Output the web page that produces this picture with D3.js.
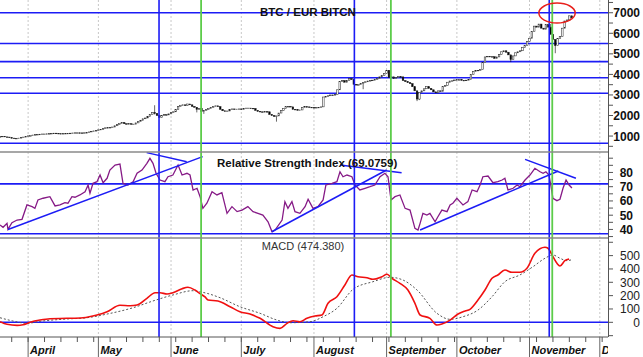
<!DOCTYPE html>
<html><head><meta charset="utf-8">
<script src="https://cdn.jsdelivr.net/npm/d3@7"></script>
<style>html,body{margin:0;padding:0;background:#fff;}svg{display:block;}</style>
</head><body>
<script>
// ---------- DATA ----------
const startDate = "2017-03-20";            // first daily candle
const firstOpen = 960;
const closes = [
 // Mar 20-31
 970,990,960,950,920,900,880,890,900,930,950,980,
 // April
 1010,1020,1050,1070,1080,1090,1100,1100,1110,1120,1130,1140,1130,1120,1120,1125,1130,1135,1140,1150,1160,1160,1155,1150,1160,1170,1200,1230,1250,1270,
 // May
 1300,1330,1370,1400,1410,1420,1440,1500,1560,1620,1660,1600,1580,1600,1570,1580,1640,1700,1770,1840,1880,1950,2050,2150,2100,2000,1900,1990,2040,2030,2080,
 // June
 2150,2180,2300,2450,2500,2520,2480,2560,2520,2440,2400,2300,2350,2200,2250,2300,2330,2400,2450,2470,2430,2300,2230,2200,2220,2280,2320,2300,2310,2320,
 // July
 2300,2340,2360,2360,2350,2340,2250,2200,2180,2170,2190,2180,2050,2000,1950,1980,2120,2250,2350,2430,2440,2420,2300,2280,2260,2270,2380,2430,2420,2400,2390,
 // August
 2380,2390,2400,2420,2900,2920,2960,3000,2990,3030,3250,3650,3700,3620,3700,3800,3750,3520,3480,3500,3550,3600,3640,3680,3700,3720,3760,3800,3880,3950,4050,
 // September
 4200,3850,3880,3800,3850,3890,3880,3700,3650,3600,3550,3400,3200,2800,3130,3200,3300,3400,3320,3250,3150,3100,3200,3180,3400,3450,3620,3680,3690,3730,
 // October
 3740,3740,3710,3700,3720,3760,4000,4150,4200,4180,4250,4570,4850,4880,4850,4860,4780,4850,4980,5100,5150,5080,4950,4720,4900,5050,5100,5150,5300,5400,5600,
 // November 1-19
 5760,6100,6350,6300,6450,6250,6200,6420,6300,5950,5700,5400,5750,5850,6250,6600,6650,6850,6750
];
// sparse wick extremes: [day index, low, high]
const wicks = [[66,2050,2500],[84,2150,null],[87,2080,null],[118,1700,null],[155,3280,null],
               [178,2700,null],[179,2750,null],[218,4600,null],[237,5030,null],[235,null,6450]];

const priceTicks = [1000,2000,3000,4000,5000,6000,7000];
const priceLevels = [7000,5500,4620,3840,3080,650];       // horizontal support/resistance lines

const rsiDays = [0,1.3,3,3.4,5.1,7.3,9.4,11.5,13.7,14.9,16.2,18.4,21.3,23.5,25.6,27.7,29,30.7,32,34.1,36.3,37.6,38.4,39.7,41.4,42.7,44,45.7,46.9,49.1,51.2,52.5,54.6,56.8,58.5,60.6,62.7,64,65.3,66.6,68.3,70.4,71.7,73.8,76,77.7,79.8,81.1,82.4,84.1,85.4,86.6,88.3,90.5,92.6,94.7,96.9,99,101.2,103.3,105.8,108,110.1,112.2,114.4,116.1,117.4,120.4,121.6,122.9,124.6,125.9,128,130.2,131.5,133.6,135.7,137.9,139.1,141.7,143.8,145.1,146.4,148.1,150.2,151.5,153.6,155.8,157.9,160,162.2,164.3,165.6,166.9,168.6,170.7,172.9,175,177.1,178.4,179.3,180.5,182.2,183.5,185.7,186.9,188.6,190.8,192.1,193.3,195,196.3,197.6,199.7,201.5,203.6,204.9,206.1,208.3,210.4,212.5,214.3,215.5,216.8,219,220.7,221.9,224.1,226.2,228.3,230.5,231.8,233,234.3,235.2,236,237.7,239,240.3,241.6,242.9,244.1];
const rsiValues = [43.1,41.5,44.3,40.1,44.7,46.6,47.1,57.2,56,54.8,60.7,61.9,63,56.5,57.2,58.8,58.4,63,62.6,64.2,66.5,71.2,65.4,72.4,73.5,78.2,72.8,75.9,81.7,85.2,85.9,72.4,71.2,73.5,79.4,81.7,86.4,89.9,86.4,79.4,74.7,73.5,77,78.2,85.2,78.2,79.4,78.2,67.7,68.9,63,54.8,58.4,66.5,64.2,65.8,51.3,56,52.5,53.6,56,52.5,51.3,50.1,45.4,38.4,39.6,46.6,59.5,54.8,59.5,52.5,51.3,56,61.2,54.8,56,60.7,71.2,72.4,73.5,80.5,77,78.2,77,71.2,67.7,68.9,70,71.2,77,79.4,77,60.7,63,64.2,54.8,53.6,40.8,39.6,44.3,51.3,50.1,51.3,45.4,48.9,53.6,52.5,57.2,58.4,61.9,59.5,57.2,59.5,67.7,66.5,71.2,77,77.5,72.8,73.5,74.7,75.9,67.7,68.9,71.2,70,74.7,78.2,82.9,80.5,79.4,80.5,78.2,70,61.9,60.2,61.2,68.9,74.7,71.2,69.1];
const rsiTicks = [40,50,60,70,80];
const rsiLevels = [72,37];
// analyst trend lines on RSI: [[day, rsi],[day, rsi]]
const rsiTrendLines = [
  [[3.4,40],[86.5,91.1]], [[62.6,93.9],[79.7,87.5]],
  [[116,38.4],[165,81.7]], [[145.1,85.2],[171.4,79.8]],
  [[179.3,39.6],[238.3,81]], [[224.1,89.2],[245.8,75.9]]
];

const macdDays = [0,3,7.3,9.8,12.8,17.1,21.3,28.6,35.4,41.4,45.7,51.2,55.5,58.5,62.7,66.2,68.3,71.3,73.8,77.7,80.2,83.2,85.4,87.5,88.8,93,98.2,102.4,106.7,111,116.5,119.5,122.5,125.1,128,131,134.4,137.4,140,143.8,147.2,150.2,152.8,156.6,159.2,163,165.2,167.3,170.7,174.1,177.1,179.3,183.5,186.5,188.6,192.1,195.5,198.5,200.6,204,207,210,212.5,215.5,218.5,221.9,224.9,228.3,232.6,233.9,235.6,237.7,239,241.1,242.9];
const macdValues = [4.5,-15,-22.5,-18,0,17,27,30,34.5,55,79.5,127.5,124.5,130,180,222,222,212,222,252,262.5,242,215,190,167,160,117,79.5,62,30,-33,-45,-7.5,12,4.5,30,47,55,142.5,192,280,355,342,334.5,322.5,342,360,330,292.5,242,142.5,55,30,-20,-13,17,62,85,97.5,167,242,330,355,392,375,375,405,517.5,562.5,555,505,442.5,422,462,474.38];
const signalDays = [0,5.5,11.5,17.1,28.6,37.1,45.7,56.8,65.3,73.8,82.4,85.4,88.3,93.9,102.4,111,118.2,123.8,132.3,137.9,143.8,150.7,159.2,166.5,172,178,186.5,192.1,197.6,204,210,215.5,221.9,227.5,232.6,236,239,242,244.1];
const signalValues = [34.5,10,-7.5,7.5,25,34.5,62,109.5,160,205,237,229,217.5,184.5,117,67.5,17,-3,4.5,42,105,247.5,304.5,337.5,317,242,67.5,22.5,42,92,192,304.5,355,417,480,505,480,462,470];
const macdTicks = [0,100,200,300,400,500];
const macdTickMarks = [-100,0,100,200,300,400,500,600];

const monthLabels = ["April","May","June","July","August","September","October","November","D"];
const monthStarts = ["2017-04-01","2017-05-01","2017-06-01","2017-07-01","2017-08-01","2017-09-01","2017-10-01","2017-11-01","2017-12-01"];
const blueMarkers = ["2017-05-26T21:00Z","2017-08-18T06:00Z","2017-11-09T10:00Z"];
const greenMarkers = ["2017-06-13T20:00Z","2017-09-02T20:00Z","2017-11-10T17:00Z"];
const highlight = {from:"2017-11-05T00:00Z", to:"2017-11-20T12:00Z", low:6500, high:7470};

const titleText = "BTC / EUR BITCN";
const rsiTitle = "Relative Strength Index (69.0759)";
const macdTitle = "MACD (474.380)";

// ---------- LAYOUT ----------
const W = 643, H = 357, PW = 608;
const P1 = [0,152], P2 = [152,238], P3 = [238,337], AX = 337;
const BLUE = "#1c1cf5", GREEN = "#5ccc4a";

const t0 = new Date(startDate + "T00:00Z");
const dayDate = d => new Date(t0.getTime() + d*864e5);

const x = d3.scaleUtc().domain([t0, new Date("2017-12-04T12:00Z")]).range([0, PW]);
const yP = d3.scaleLinear().domain([224, 7620]).range([P1[1], P1[0]]);
const yR = d3.scaleLinear().domain([34, 94.35]).range([P2[1], P2[0]]);
const yM = d3.scaleLinear().domain([-110, 632]).range([P3[1], P3[0]]);

const svg = d3.select("body").append("svg").attr("width", W).attr("height", H)
  .style("font-family","'Liberation Sans', Arial, sans-serif");

svg.append("defs").append("clipPath").attr("id","plot")
  .append("rect").attr("x",0).attr("y",0).attr("width",PW).attr("height",H);

const g = svg.append("g").attr("clip-path","url(#plot)");

// month dotted gridlines
const months = monthStarts.map(s => new Date(s + "T00:00Z"));
g.selectAll("line.mgrid").data(months).join("line").attr("class","mgrid")
  .attr("x1", d => x(d)).attr("x2", d => x(d)).attr("y1", 0).attr("y2", AX)
  .attr("stroke","#c8c8c8").attr("stroke-dasharray","2,2").attr("stroke-width",1);

// panel separators
[P1[1], P2[1]].forEach(yy => {
  svg.append("line").attr("x1",0).attr("x2",PW).attr("y1",yy).attr("y2",yy)
    .attr("stroke","#8a8a8a").attr("stroke-width",1.6);
});

// horizontal level lines
g.selectAll("line.pl").data(priceLevels).join("line").attr("class","pl")
  .attr("x1",0).attr("x2",PW).attr("y1",d=>yP(d)).attr("y2",d=>yP(d))
  .attr("stroke",BLUE).attr("stroke-width",1.6);
g.selectAll("line.rl").data(rsiLevels).join("line").attr("class","rl")
  .attr("x1",0).attr("x2",PW).attr("y1",d=>yR(d)).attr("y2",d=>yR(d))
  .attr("stroke",BLUE).attr("stroke-width",1.6);
g.append("line").attr("x1",0).attr("x2",PW).attr("y1",yM(0)).attr("y2",yM(0))
  .attr("stroke",BLUE).attr("stroke-width",1.6);

// candles
const candles = closes.map((c,i) => {
  const o = i === 0 ? firstOpen : closes[i-1];
  let hi = Math.max(o,c), lo = Math.min(o,c);
  const w = wicks.find(k => k[0] === i);
  if (w) { if (w[1] != null) lo = w[1]; if (w[2] != null) hi = w[2]; }
  return {date: dayDate(i), o, c, hi, lo};
});
const cg = g.append("g");
cg.selectAll("line.wick").data(candles).join("line").attr("class","wick")
  .attr("x1", d => x(d.date)).attr("x2", d => x(d.date))
  .attr("y1", d => yP(d.hi)).attr("y2", d => yP(d.lo))
  .attr("stroke","#000").attr("stroke-width",0.6);
cg.selectAll("rect.body").data(candles).join("rect").attr("class","body")
  .attr("x", d => x(d.date) - 0.8).attr("width", 1.6)
  .attr("y", d => yP(Math.max(d.o,d.c)))
  .attr("height", d => Math.max(0.6, Math.abs(yP(d.o) - yP(d.c))))
  .attr("fill", d => d.c >= d.o ? "#fff" : "#000")
  .attr("stroke","#222").attr("stroke-width",0.5);

// RSI
const rsi = rsiDays.map((d,i) => ({date: dayDate(d), v: rsiValues[i]}));
g.append("path").datum(rsi)
  .attr("d", d3.line().x(d=>x(d.date)).y(d=>yR(d.v)))
  .attr("fill","none").attr("stroke","#861a86").attr("stroke-width",1.3);
g.selectAll("line.tl").data(rsiTrendLines).join("line").attr("class","tl")
  .attr("x1", d=>x(dayDate(d[0][0]))).attr("y1", d=>yR(d[0][1]))
  .attr("x2", d=>x(dayDate(d[1][0]))).attr("y2", d=>yR(d[1][1]))
  .attr("stroke",BLUE).attr("stroke-width",1.5);

// MACD
const sig = signalDays.map((d,i) => ({date: dayDate(d), v: signalValues[i]}));
const mac = macdDays.map((d,i) => ({date: dayDate(d), v: macdValues[i]}));
g.append("path").datum(sig)
  .attr("d", d3.line().curve(d3.curveMonotoneX).x(d=>x(d.date)).y(d=>yM(d.v)))
  .attr("fill","none").attr("stroke","#555").attr("stroke-width",1).attr("stroke-dasharray","2,2");
g.append("path").datum(mac)
  .attr("d", d3.line().curve(d3.curveMonotoneX).x(d=>x(d.date)).y(d=>yM(d.v)))
  .attr("fill","none").attr("stroke","#f01010").attr("stroke-width",1.6);

// vertical markers
g.selectAll("line.bm").data(blueMarkers.map(s=>new Date(s))).join("line").attr("class","bm")
  .attr("x1",d=>x(d)).attr("x2",d=>x(d)).attr("y1",0).attr("y2",AX)
  .attr("stroke",BLUE).attr("stroke-width",1.6);
g.selectAll("line.gm").data(greenMarkers.map(s=>new Date(s))).join("line").attr("class","gm")
  .attr("x1",d=>x(d)).attr("x2",d=>x(d)).attr("y1",0).attr("y2",AX)
  .attr("stroke",GREEN).attr("stroke-width",1.8);

// highlight ellipse
{
  const x0 = x(new Date(highlight.from)), x1 = x(new Date(highlight.to));
  const y0 = yP(highlight.high), y1 = yP(highlight.low);
  svg.append("ellipse").attr("cx",(x0+x1)/2).attr("cy",(y0+y1)/2)
    .attr("rx",(x1-x0)/2).attr("ry",(y1-y0)/2)
    .attr("fill","none").attr("stroke","#e8201c").attr("stroke-width",1.5);
}

// titles
svg.append("text").attr("x",260).attr("y",16).attr("font-size",11.5).attr("font-weight","bold")
  .attr("fill","#111").text(titleText);
svg.append("text").attr("x",217).attr("y",167).attr("font-size",11.5).attr("font-weight","bold")
  .attr("fill","#111").text(rsiTitle);
svg.append("text").attr("x",303).attr("y",250).attr("font-size",11).attr("text-anchor","middle")
  .attr("fill","#333").text(macdTitle);

// bottom axis
svg.append("line").attr("x1",0).attr("x2",PW).attr("y1",AX).attr("y2",AX).attr("stroke","#555").attr("stroke-width",1);
const weeks = d3.utcSaturday.range(t0, new Date("2017-12-05T00:00Z"));
svg.selectAll("line.wk").data(weeks).join("line").attr("class","wk")
  .attr("x1",d=>x(d)).attr("x2",d=>x(d)).attr("y1",AX).attr("y2",AX+5)
  .attr("stroke","#555").attr("stroke-width",1);
svg.selectAll("line.mt").data(months).join("line").attr("class","mt")
  .attr("x1",d=>x(d)).attr("x2",d=>x(d)).attr("y1",AX).attr("y2",H)
  .attr("stroke","#666").attr("stroke-width",1);
g.selectAll("text.ml").data(months).join("text").attr("class","ml")
  .attr("x",d=>x(d)+2).attr("y",354)
  .attr("font-size",11).attr("font-weight","bold").attr("font-style","italic")
  .attr("fill","#111").text((d,i)=>monthLabels[i]);

// right axes
svg.append("line").attr("x1",PW+0.5).attr("x2",PW+0.5).attr("y1",0).attr("y2",AX).attr("stroke","#555");
const pMinor = d3.range(500, 7600, 500);
svg.selectAll("line.pt").data(pMinor).join("line").attr("class","pt")
  .attr("x1",PW).attr("x2",PW+5).attr("y1",d=>yP(d)).attr("y2",d=>yP(d)).attr("stroke","#555");
svg.selectAll("text.plab").data(priceTicks).join("text").attr("class","plab")
  .attr("x",640).attr("y",d=>yP(d)+4.5).attr("text-anchor","end")
  .attr("font-size",12).attr("font-weight","bold").attr("fill","#111").text(d=>d);
const rMinor = d3.range(35, 95, 5);
svg.selectAll("line.rt").data(rMinor).join("line").attr("class","rt")
  .attr("x1",PW).attr("x2",PW+5).attr("y1",d=>yR(d)).attr("y2",d=>yR(d)).attr("stroke","#555");
svg.selectAll("text.rlab").data(rsiTicks).join("text").attr("class","rlab")
  .attr("x",633).attr("y",d=>yR(d)+4.5).attr("text-anchor","end")
  .attr("font-size",12).attr("font-weight","bold").attr("fill","#111").text(d=>d);
svg.selectAll("line.mtk").data(macdTickMarks).join("line").attr("class","mtk")
  .attr("x1",PW).attr("x2",PW+5).attr("y1",d=>yM(d)).attr("y2",d=>yM(d)).attr("stroke","#555");
svg.selectAll("text.mlab").data(macdTicks).join("text").attr("class","mlab")
  .attr("x",640).attr("y",d=>yM(d)+4.5).attr("text-anchor","end")
  .attr("font-size",12).attr("fill","#222").text(d=>d);
</script>
</body></html>
